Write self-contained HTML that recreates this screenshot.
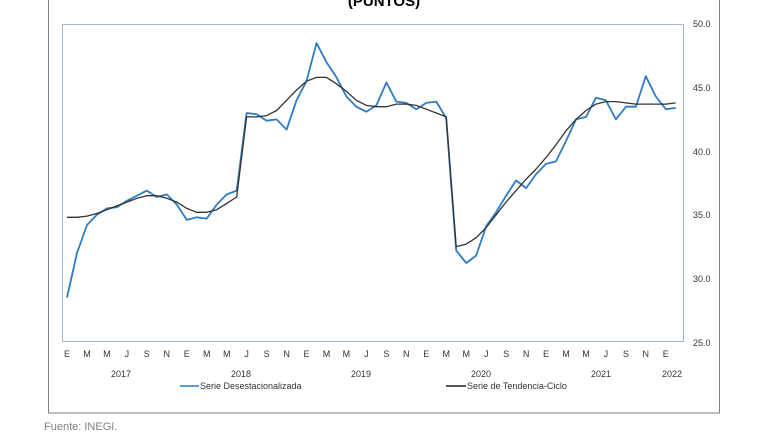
<!DOCTYPE html>
<html><head><meta charset="utf-8"><style>
body{margin:0;background:#fff;width:768px;height:432px;overflow:hidden;font-family:"Liberation Sans",sans-serif}
</style></head><body>
<svg width="768" height="432" xmlns="http://www.w3.org/2000/svg" font-family="Liberation Sans, sans-serif">
<rect x="48.5" y="-5" width="671" height="418" fill="#fff" stroke="#7f7f7f" stroke-width="1"/>
<text x="384" y="6" font-size="15" font-weight="bold" text-anchor="middle">(PUNTOS)</text>
<rect x="62.5" y="24.5" width="621" height="317" fill="none" stroke="#a6b8c8" stroke-width="1"/>
<g font-size="9" fill="#333" text-anchor="start">
<text x="693" y="27">50.0</text><text x="693" y="91">45.0</text><text x="693" y="155">40.0</text>
<text x="693" y="218">35.0</text><text x="693" y="282">30.0</text><text x="693" y="346">25.0</text>
</g>
<g id="months" font-size="9" fill="#333" text-anchor="middle"></g>
<g font-size="9" fill="#333" text-anchor="middle">
<text x="121" y="377">2017</text><text x="241" y="377">2018</text><text x="361" y="377">2019</text>
<text x="481" y="377">2020</text><text x="601" y="377">2021</text><text x="672" y="377">2022</text>
</g>
<line x1="180" y1="386" x2="199" y2="386" stroke="#2e7cc5" stroke-width="1.5"/>
<text x="200" y="389" font-size="9" fill="#333">Serie Desestacionalizada</text>
<line x1="446" y1="386" x2="466" y2="386" stroke="#222" stroke-width="1.5"/>
<text x="467" y="389" font-size="9" fill="#333">Serie de Tendencia-Ciclo</text>
<polyline id="blue" fill="none" stroke="#2e7cc5" stroke-width="1.8" stroke-linejoin="round"/>
<polyline id="trend" fill="none" stroke="#333" stroke-width="1.3" stroke-linejoin="round"/>
<text x="44" y="430" font-size="11" fill="#7f7f7f">Fuente: INEGI.</text>
</svg>
<script>
var b=[28.5,32,34.2,35,35.5,35.6,36.1,36.5,36.9,36.4,36.6,35.8,
34.6,34.8,34.7,35.8,36.6,36.9,43.0,42.9,42.4,42.5,41.7,44.0,
45.5,48.5,47.0,45.8,44.3,43.5,43.1,43.6,45.4,43.9,43.8,43.3,
43.8,43.9,42.6,32.2,31.2,31.8,34.1,35.2,36.5,37.7,37.1,38.2,
39.0,39.2,40.8,42.5,42.7,44.2,44.0,42.5,43.5,43.5,45.9,44.3,43.3,43.4];
var t=[34.8,34.8,34.9,35.1,35.4,35.7,36.0,36.3,36.5,36.5,36.3,36.0,
35.5,35.2,35.2,35.4,35.9,36.4,42.7,42.7,42.8,43.2,44.0,44.8,
45.5,45.8,45.8,45.3,44.7,44.0,43.6,43.5,43.5,43.7,43.7,43.6,
43.3,43.0,42.7,32.5,32.7,33.2,34.0,35.0,36.0,36.9,37.8,38.6,
39.5,40.5,41.6,42.5,43.2,43.7,43.9,43.9,43.8,43.7,43.7,43.7,43.7,43.8];
function X(i){return 67+9.98*i}function Y(v){return 24+(50-v)*12.72}
function pts(a){return a.map(function(v,i){return X(i).toFixed(1)+","+Y(v).toFixed(1)}).join(" ")}
document.getElementById("blue").setAttribute("points",pts(b));
document.getElementById("trend").setAttribute("points",pts(t));
var L=["E","M","M","J","S","N"],g=document.getElementById("months"),s="";
for(var i=0;i<31;i++){s+='<text x="'+X(i*2).toFixed(1)+'" y="357">'+L[i%6]+'</text>';}
g.innerHTML=s;
</script>
</body></html>
